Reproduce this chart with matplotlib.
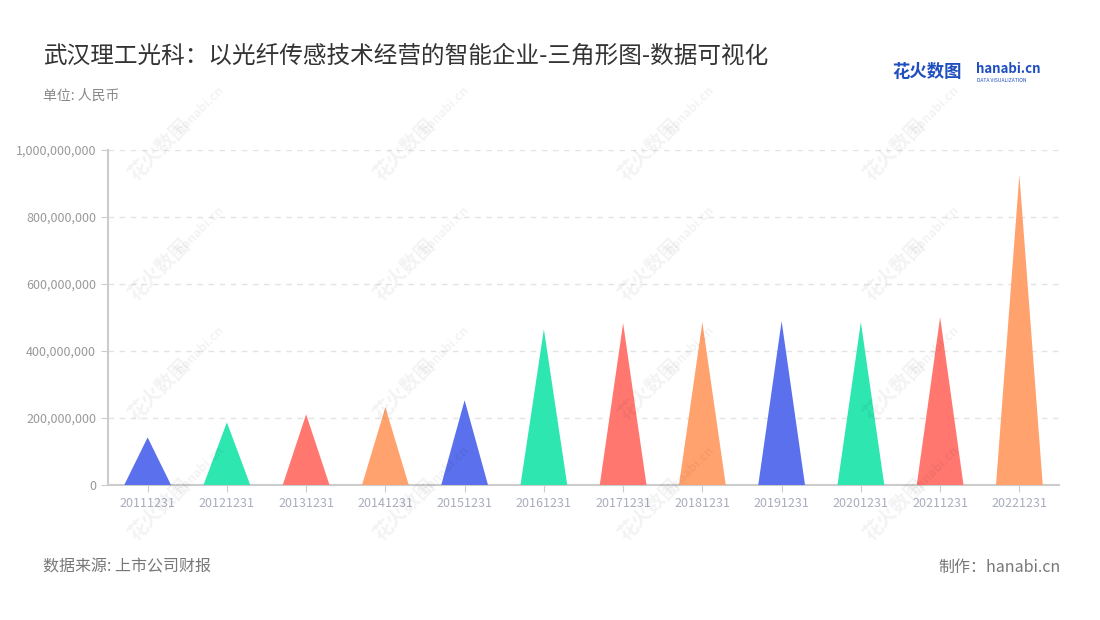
import matplotlib
matplotlib.use("Agg")
import matplotlib.pyplot as plt
from matplotlib.ticker import FuncFormatter

plt.rcParams['font.family'] = ['Noto Sans CJK SC', 'DejaVu Sans']

# 数据
periods = ['20111231', '20121231', '20131231', '20141231', '20151231', '20161231',
           '20171231', '20181231', '20191231', '20201231', '20211231', '20221231']
revenue = [142e6, 187e6, 211e6, 232e6, 253e6, 465e6,
           483e6, 486e6, 489e6, 486e6, 501e6, 926e6]
colors = ['#5A70EC', '#2DE6B0', '#FF776F', '#FFA26E']

fig = plt.figure(figsize=(11, 6.2), dpi=100)
ax = fig.add_axes([108 / 1100, 1 - 485 / 620, 951 / 1100, 335 / 620])

w = 0.59
for i, v in enumerate(revenue):
    ax.fill([i - w / 2, i, i + w / 2], [0, v, 0], color=colors[i % 4], lw=0, zorder=3)

ax.set_xlim(-0.5, len(periods) - 0.5)
ax.set_ylim(0, 1e9)
ax.set_yticks([0, 2e8, 4e8, 6e8, 8e8, 1e9])
ax.yaxis.set_major_formatter(FuncFormatter(lambda v, p: f'{int(v):,}'))
ax.set_xticks(range(len(periods)))
ax.set_xticklabels(periods)

for s in ['top', 'right']:
    ax.spines[s].set_visible(False)
for s in ['left', 'bottom']:
    ax.spines[s].set_color('#cccccc')
    ax.spines[s].set_linewidth(1.5)
ax.tick_params(axis='y', colors='#cccccc', labelcolor='#999999', labelsize=9, length=5)
ax.tick_params(axis='x', colors='#cccccc', labelcolor='#a9adbd', labelsize=9, length=5)
ax.grid(axis='y', color='#e3e3e3', linestyle=(0, (4, 4)), linewidth=1)
ax.set_axisbelow(True)

# 水印
for x in [160, 405, 650, 895]:
    for y in [150, 270, 390, 510]:
        fig.text(x / 1100, 1 - y / 620, '花火数图', rotation=45, fontsize=14,
                 color='#000000', alpha=0.05, ha='center', va='center', fontweight='bold')
        fig.text((x + 40) / 1100, 1 - (y - 40) / 620, 'hanabi.cn', rotation=45, fontsize=9,
                 color='#000000', alpha=0.05, ha='center', va='center', fontweight='bold')

# 标题
fig.text(43 / 1100, 1 - 56 / 620, '武汉理工光科：以光纤传感技术经营的智能企业-三角形图-数据可视化',
         fontsize=17, color='#333333', va='center')
fig.text(43 / 1100, 1 - 96 / 620, '单位: 人民币', fontsize=10, color='#888888', va='center')

# logo
fig.text(892 / 1100, 1 - 72 / 620, '花火数图', fontsize=12.5, color='#1f4fbf',
         fontweight='bold', va='center')
fig.text(976 / 1100, 1 - 69 / 620, 'hanabi.cn', fontsize=9.5, color='#1f4fbf',
         fontweight='bold', va='center')
fig.text(977 / 1100, 1 - 80 / 620, 'DATA VISUALIZATION', fontsize=3.6, color='#1f4fbf',
         va='center')

# 页脚
fig.text(43 / 1100, 1 - 567 / 620, '数据来源: 上市公司财报', fontsize=11.5, color='#777777', va='center')
fig.text(1061 / 1100, 1 - 567 / 620, '制作：hanabi.cn', fontsize=11.5, color='#777777',
         va='center', ha='right')

fig.savefig('out.png', dpi=100, facecolor='white')
